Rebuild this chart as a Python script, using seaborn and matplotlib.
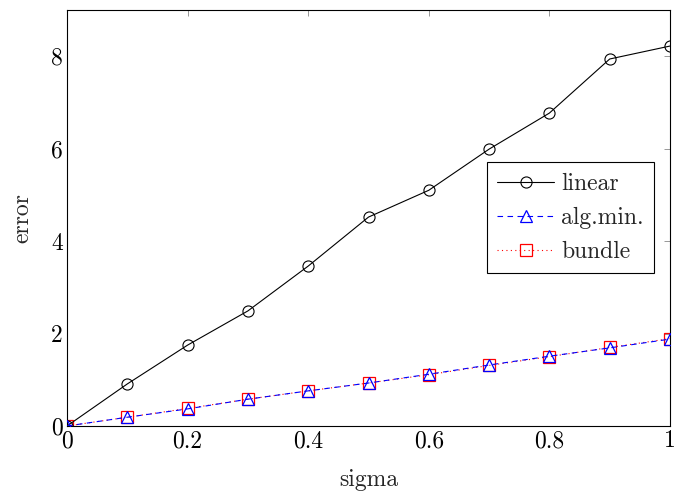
import numpy as np
import pandas as pd
import matplotlib
matplotlib.use("Agg")
import matplotlib.pyplot as plt
from matplotlib.ticker import FuncFormatter
import seaborn as sns

sigma = [0.0, 0.1, 0.2, 0.3, 0.4, 0.5, 0.6, 0.7, 0.8, 0.9, 1.0]
linear = [0.0, 0.91, 1.75, 2.49, 3.46, 4.52, 5.10, 5.99, 6.77, 7.94, 8.22]
alg_min = [0.0, 0.19, 0.37, 0.58, 0.76, 0.93, 1.12, 1.32, 1.51, 1.69, 1.88]
bundle = [0.0, 0.19, 0.38, 0.58, 0.76, 0.93, 1.11, 1.31, 1.50, 1.70, 1.89]
x_ticks = [0, 0.2, 0.4, 0.6, 0.8, 1.0]
y_ticks = [0, 2, 4, 6, 8]

sns.set_theme(style="white")
plt.rcParams["font.family"] = ["cmr10", "DejaVu Serif"]
plt.rcParams["axes.formatter.use_mathtext"] = True
plt.rcParams["mathtext.fontset"] = "cm"

fig = plt.figure(figsize=(6.76, 4.95), dpi=100)
ax = fig.add_axes([67 / 676, 1 - 426 / 495, (670 - 67) / 676, (426 - 10) / 495])

df = pd.DataFrame({"sigma": sigma, "linear": linear, "alg.min.": alg_min, "bundle": bundle})

sns.lineplot(data=df, x="sigma", y="linear", ax=ax, color="black", lw=0.8,
             marker="o", markersize=8, markerfacecolor="none",
             markeredgecolor="black", markeredgewidth=0.8, label="linear", zorder=3)
sns.lineplot(data=df, x="sigma", y="alg.min.", ax=ax, color="blue", lw=0.8,
             linestyle=(0, (5, 4)), marker="^", markersize=8,
             markerfacecolor="none", markeredgecolor="blue",
             markeredgewidth=0.9, label="alg.min.", zorder=4)
sns.lineplot(data=df, x="sigma", y="bundle", ax=ax, color="red", lw=0.8,
             linestyle=(0, (1, 3)), marker="s", markersize=8,
             markerfacecolor="none", markeredgecolor="red",
             markeredgewidth=0.9, label="bundle", zorder=2)

ax.set_xlim(0, 1)
ax.set_ylim(0, 9)
ax.set_xticks(x_ticks)
ax.set_yticks(y_ticks)
fmt = FuncFormatter(lambda v, p: f"{v:g}")
ax.xaxis.set_major_formatter(fmt)
ax.yaxis.set_major_formatter(fmt)
ax.tick_params(direction="in", length=4, width=0.6, color="#888888",
               top=True, right=True, labelsize=17, pad=3, labelcolor="black")
for s in ax.spines.values():
    s.set_color("black")
    s.set_linewidth(0.8)

ax.set_xlabel("sigma", fontsize=17, labelpad=12)
ax.set_ylabel("error", fontsize=17, labelpad=13)

leg = ax.legend(loc="upper right", bbox_to_anchor=(0.974, 0.634), fontsize=17,
                frameon=True, fancybox=False, edgecolor="black", framealpha=1,
                handlelength=2.4, handletextpad=0.3, borderpad=0.45,
                labelspacing=0.5, borderaxespad=0)
leg.get_frame().set_linewidth(0.8)

fig.savefig("out.png", dpi=100)
